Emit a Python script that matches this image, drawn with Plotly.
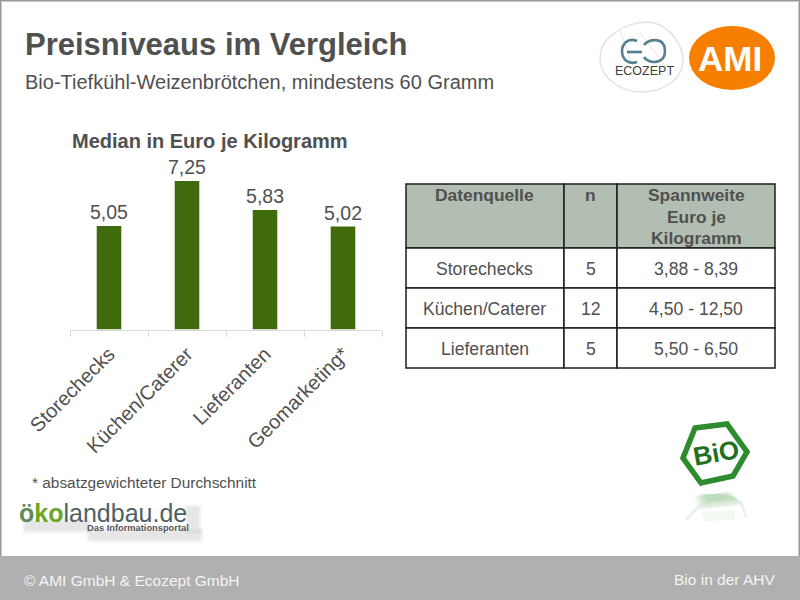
import plotly.graph_objects as go

# Chart data
categories = ["Storechecks", "Küchen/Caterer", "Lieferanten", "Geomarketing*"]
medians = [5.05, 7.25, 5.83, 5.02]

# Table data
table_header = ["Datenquelle", "n", "Spannweite<br>Euro je<br>Kilogramm"]
table_sources = ["Storechecks", "Küchen/Caterer", "Lieferanten"]
table_n = ["5", "12", "5"]
table_ranges = ["3,88 - 8,39", "4,50 - 12,50", "5,50 - 6,50"]

INK = "#505050"
FONT = "Liberation Sans, Arial, sans-serif"
W, H = 800, 600


def fx(x):
    return x / W


def fy(y):
    return 1 - y / H


def label(x, y, text, size, color=INK, anchor="left", bold=False, angle=0, opacity=1):
    """Slide text placed in page coordinates."""
    fig.add_annotation(
        x=fx(x), y=fy(y), xref="paper", yref="paper", text=f"<b>{text}</b>" if bold else text,
        showarrow=False, xanchor=anchor, yanchor="middle", textangle=angle, opacity=opacity,
        font=dict(family=FONT, size=size, color=color), borderpad=0, borderwidth=0,
    )


def box(x0, y0, x1, y1, fill, layer="below", line=None, opacity=1):
    fig.add_shape(type="rect", xref="paper", yref="paper", x0=fx(x0), x1=fx(x1), y0=fy(y0), y1=fy(y1),
                  fillcolor=fill, layer=layer, opacity=opacity,
                  line=dict(color=line, width=1.5) if line else dict(width=0))


def soft_box(x0, y0, x1, y1, steps=5):
    """Faint shadow patch built from nested translucent rectangles."""
    for i in range(steps):
        box(x0 + i, y0 + i, x1 - i, y1 - i, "#707070", opacity=0.035)


def outline(points, closed=True, fill=None, color=None, width=1, opacity=1, layer="above"):
    """Straight-edged outline through page coordinates."""
    d = "M " + " L ".join(f"{fx(x):.5f},{fy(y):.5f}" for x, y in points) + (" Z" if closed else "")
    fig.add_shape(type="path", xref="paper", yref="paper", path=d, fillcolor=fill, opacity=opacity, layer=layer,
                  line=dict(color=color, width=width) if color else dict(width=0))


def curve(segments, fill=None, color=None, width=1, opacity=1):
    """Cubic path: a start point followed by (c1, c2, end) triples in page coordinates."""
    p = lambda q: f"{fx(q[0]):.5f},{fy(q[1]):.5f}"
    d = "M " + p(segments[0]) + "".join(f" C {p(a)} {p(b)} {p(c)}" for a, b, c in segments[1:])
    fig.add_shape(type="path", xref="paper", yref="paper", path=d, fillcolor=fill, opacity=opacity, layer="above",
                  line=dict(color=color, width=width) if color else dict(width=0))


fig = go.Figure()

# Median bars
fig.add_trace(go.Bar(
    x=categories, y=medians, width=0.315, marker=dict(color="#3f6b0c", line_width=0),
    texttemplate="%{y:.2f}", textposition="outside", cliponaxis=False, constraintext="none",
    textfont=dict(family=FONT, size=19.5, color=INK),
))

fig.update_layout(
    width=W, height=H, margin=dict(l=0, r=0, t=0, b=0, autoexpand=False), autosize=False,
    paper_bgcolor="white", plot_bgcolor="white", showlegend=False, separators=",.",
    font=dict(family=FONT, color=INK),
    xaxis=dict(domain=[fx(70), fx(382)], type="category", tickson="boundaries", ticks="outside", ticklen=6,
               tickcolor="#d9d9d9", tickwidth=1, showline=True, linecolor="#d9d9d9", linewidth=1, showgrid=False,
               tickangle=-45, tickfont=dict(family=FONT, size=20, color=INK), automargin=False,
               ticklabelstandoff=4),
    yaxis=dict(domain=[fy(329.5), fy(165.5)], range=[0, 8], visible=False, showgrid=False, automargin=False),
)

# Slide frame and footer
box(0, 0, 800, 1.5, "#9a9a9a")
box(0, 0, 1.5, 556, "#9a9a9a")
box(798.5, 0, 800, 556, "#9a9a9a")
box(0, 556, 800, 600, "#b0b0b0")
label(24, 580, "© AMI GmbH &amp; Ecozept GmbH", 15.5, "#f4f4f4")
label(775, 579, "Bio in der AHV", 15.5, "#f4f4f4", anchor="right")

# Headings
label(25, 45, "Preisniveaus im Vergleich", 31, bold=True)
label(25, 82, "Bio-Tiefkühl-Weizenbrötchen, mindestens 60 Gramm", 20)
label(209.5, 141, "Median in Euro je Kilogramm", 20, anchor="center", bold=True)
label(32, 482, "* absatzgewichteter Durchschnitt", 15.4)

# Source table: header band, body rows and centred cell text
column_edges = [406, 564, 617, 775]
row_edges = [184, 248, 288, 328, 368]
rows = list(zip(table_sources, table_n, table_ranges))
for c in range(3):
    left, right = column_edges[c], column_edges[c + 1]
    centre = (left + right) / 2
    box(left, row_edges[0], right, row_edges[1], "#b3beb2", layer="above", line="#1c1c1c")
    for i, line in enumerate(table_header[c].split("<br>")):
        label(centre, 195 + i * 21.5, line, 17.4, anchor="center", bold=True)
    for r, row in enumerate(rows):
        top, bottom = row_edges[r + 1], row_edges[r + 2]
        box(left, top, right, bottom, "white", layer="above", line="#1c1c1c")
        label(centre, (top + bottom) / 2 + 1, row[c], 17.6, anchor="center")

# Ecozept mark
blob = [(600, 58), ((600, 38), (625, 22), (648, 22)), ((668, 23), (684, 45), (683, 62)),
        ((682, 80), (662, 92), (642, 92)), ((620, 92), (600, 78), (600, 58))]
curve(blob, fill="white", color="#e2e2e2", width=1.5)
outline([(620, 30), (632, 64)], closed=False, color="#e4e4e4", width=1)
outline([(640, 33), (664, 64)], closed=False, color="#e4e4e4", width=1)
curve([(637, 41), ((627, 37), (622, 45), (622, 51)), ((622, 59), (628, 65), (637, 62))], color="#55808f", width=2.6)
outline([(627, 52), (642, 52)], closed=False, color="#55808f", width=2.6)
curve([(644, 45), ((648, 39), (665, 36), (665, 51)), ((665, 65), (648, 64), (644, 57))], color="#55808f", width=2.6)
label(644, 71, "ECOZEPT", 12.5, "#3f3f3f", anchor="center")

# AMI mark
fig.add_shape(type="circle", xref="paper", yref="paper", x0=fx(689), x1=fx(775), y0=fy(26), y1=fy(90),
              fillcolor="#f77f00", line_width=0, layer="above")
label(730, 58, "AMI", 35, "white", anchor="center", bold=True)

# Organic label and its reflection
outline([(695, 428), (727, 424), (747, 452), (733, 476), (701, 483), (683, 458)],
        fill="white", color="#2e8b2e", width=5.5)
label(716, 453, "BiO", 26, "#226f22", anchor="center", bold=True, angle=-10)
for inset, strength in zip(range(0, 10, 2), (0.10, 0.10, 0.10, 0.10, 0.10)):
    outline([(694 + inset, 497 - inset / 2), (730 - inset, 491 + inset / 2),
             (744 - inset, 505 - inset), (700 + inset, 510 - inset)], fill="#5fae5f", opacity=strength)
outline([(686, 520), (699, 506), (741, 502), (746, 517)], closed=False, color="#dcecdc", width=3, opacity=0.6)
outline([(702, 512), (735, 510), (735, 520), (705, 521)], fill="#eef5ee", opacity=0.7)

# Information portal mark with its soft shadow
soft_box(22, 518, 92, 534)
soft_box(86, 528, 204, 543)
soft_box(184, 504, 202, 534)
label(19, 513,
      "<b><span style='color:#5f8a5a'>ö</span><span style='color:#6aa61f'>ko</span></b>"
      "<span style='color:#4f5f66'>landbau.de</span>", 25)
label(87, 528, "Das Informationsportal", 9.3, "#555555", bold=True)

fig.write_html("out.html")
